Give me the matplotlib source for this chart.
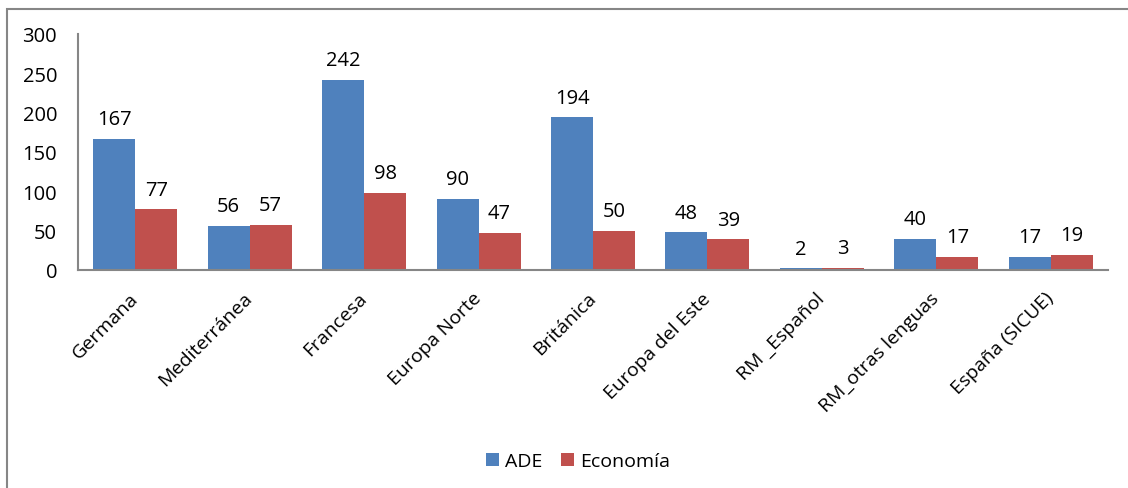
import numpy as np
import matplotlib.pyplot as plt
from matplotlib.patches import Rectangle

# data
categories = ["Germana", "Mediterránea", "Francesa", "Europa Norte", "Británica",
              "Europa del Este", "RM _Español", "RM_otras lenguas", "España (SICUE)"]
ade = [167, 56, 242, 90, 194, 48, 2, 40, 17]
economia = [77, 57, 98, 47, 50, 39, 3, 17, 19]

blue = "#4F81BD"
red = "#C0504D"
axis_grey = "#868686"

plt.rcParams['font.family'] = ['Open Sans', 'DejaVu Sans']

fig = plt.figure(figsize=(11.28, 4.89), dpi=100)

# outer chart border (only left and top edges visible in the crop)
fig.patches.append(Rectangle((7 / 1128, -0.1), 1.2, 1 - 10 / 489 + 0.1,
                             transform=fig.transFigure, fill=False,
                             edgecolor=axis_grey, linewidth=1.5))

ax = fig.add_axes([78 / 1128, 1 - 271 / 489, (1108 - 78) / 1128, (271 - 35) / 489])

x = np.arange(len(categories))
w = 0.367
b1 = ax.bar(x - w / 2, ade, w, color=blue, label="ADE")
b2 = ax.bar(x + w / 2, economia, w, color=red, label="Economía")

for bars, vals in ((b1, ade), (b2, economia)):
    for rect, v in zip(bars, vals):
        ax.annotate(str(v), (rect.get_x() + rect.get_width() / 2, rect.get_height()),
                    xytext=(0, 7), textcoords="offset points",
                    ha="center", va="bottom", fontsize=14.5)

ax.set_xlim(-0.5, len(categories) - 0.5)
ax.set_ylim(0, 300)
ax.set_yticks(range(0, 301, 50))
ax.set_xticks(x)
ax.set_xticklabels(categories, rotation=45, ha="right", va="center",
                   rotation_mode="anchor", fontsize=14)
ax.tick_params(axis="x", length=0, pad=18)
ax.tick_params(axis="y", length=0, pad=15, labelsize=14.5)

for side in ("top", "right"):
    ax.spines[side].set_visible(False)
for side in ("left", "bottom"):
    ax.spines[side].set_color(axis_grey)
    ax.spines[side].set_linewidth(1.5)

fig.legend(handles=[b1, b2], labels=["ADE", "Economía"], loc="center",
           bbox_to_anchor=(578 / 1128, 1 - 462 / 489), ncol=2, frameon=False,
           fontsize=14, handlelength=0.65, handleheight=0.65, handletextpad=0.3,
           columnspacing=1.0)

fig.savefig("out.png", dpi=100)
